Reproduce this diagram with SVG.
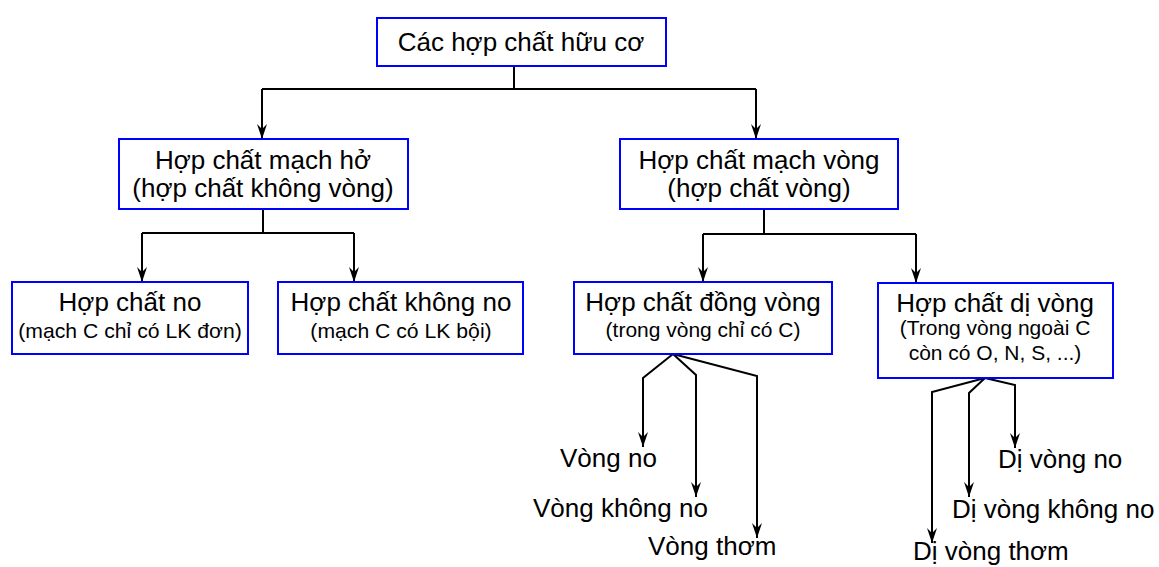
<svg xmlns="http://www.w3.org/2000/svg" width="1159" height="567" viewBox="0 0 1159 567">
<defs>
<marker id="arr" markerUnits="userSpaceOnUse" markerWidth="16" markerHeight="12" viewBox="-15 -6 16 12" refX="0" refY="0" orient="auto">
<path d="M0,0 L-15,-5 L-10,0 L-15,5 Z" fill="#000"/>
</marker>
</defs>
<style>
.box{fill:#fff;stroke:#0000ff;stroke-width:2}
.t{font-family:"Liberation Sans",Arial,sans-serif;font-size:26px;fill:#000;text-anchor:middle}
.s{font-family:"Liberation Sans",Arial,sans-serif;font-size:20px;fill:#000;text-anchor:middle}
.l{font-family:"Liberation Sans",Arial,sans-serif;font-size:26px;fill:#000}
.c{fill:none;stroke:#000;stroke-width:2}
</style>
<rect width="1159" height="567" fill="#fff"/>
<g id="connectors">
<path class="c" d="M514,66 V89 M262,89 H756"/>
<path class="c" d="M262,89 V139" marker-end="url(#arr)"/>
<path class="c" d="M756,89 V139" marker-end="url(#arr)"/>
<path class="c" d="M263,209 V233 M142,233 H354"/>
<path class="c" d="M142,233 V282" marker-end="url(#arr)"/>
<path class="c" d="M354,233 V282" marker-end="url(#arr)"/>
<path class="c" d="M764,209 V234 M703,234 H916"/>
<path class="c" d="M703,234 V282" marker-end="url(#arr)"/>
<path class="c" d="M916,234 V283" marker-end="url(#arr)"/>
<path class="c" d="M673,354 L643,378 V447" marker-end="url(#arr)"/>
<path class="c" d="M673,354 L696,375 V497" marker-end="url(#arr)"/>
<path class="c" d="M673,354 L757,376 V538" marker-end="url(#arr)"/>
<path class="c" d="M985,378 L932,392 V543" marker-end="url(#arr)"/>
<path class="c" d="M985,378 L969,393 V497" marker-end="url(#arr)"/>
<path class="c" d="M985,378 L1015,385 V448" marker-end="url(#arr)"/>
</g>
<g id="n-root">
<rect class="box" x="377" y="18" width="289" height="48"/>
<text class="t" x="521" y="51">Các hợp chất hữu cơ</text>
</g>
<g id="n-mach-ho">
<rect class="box" x="119" y="139" width="289" height="70"/>
<text class="t" x="263" y="169">Hợp chất mạch hở</text>
<text class="t" x="263" y="197">(hợp chất không vòng)</text>
</g>
<g id="n-mach-vong">
<rect class="box" x="620" y="139" width="278" height="70"/>
<text class="t" x="759" y="169">Hợp chất mạch vòng</text>
<text class="t" x="759" y="197">(hợp chất vòng)</text>
</g>
<g id="n-no">
<rect class="box" x="12" y="282" width="236" height="72"/>
<text class="t" x="130" y="311">Hợp chất no</text>
<text class="s" transform="translate(130,338) scale(1.06,1)">(mạch C chỉ có LK đơn)</text>
</g>
<g id="n-khong-no">
<rect class="box" x="278" y="282" width="245" height="72"/>
<text class="t" x="401" y="311">Hợp chất không no</text>
<text class="s" transform="translate(401,338) scale(1.06,1)">(mạch C có LK bội)</text>
</g>
<g id="n-dong-vong">
<rect class="box" x="574" y="282" width="258" height="72"/>
<text class="t" x="703" y="311">Hợp chất đồng vòng</text>
<text class="s" transform="translate(703,337) scale(1.05,1)">(trong vòng chỉ có C)</text>
</g>
<g id="n-di-vong">
<rect class="box" x="878" y="283" width="235" height="95"/>
<text class="t" x="995" y="312">Hợp chất dị vòng</text>
<text class="s" transform="translate(995,335) scale(1.05,1)">(Trong vòng ngoài C</text>
<text class="s" transform="translate(995,360) scale(1.05,1)">còn có O, N, S, ...)</text>
</g>
<g id="n-vong-no"><text class="l" x="560" y="467">Vòng no</text></g>
<g id="n-vong-khong-no"><text class="l" x="533" y="517">Vòng không no</text></g>
<g id="n-vong-thom"><text class="l" x="648" y="555">Vòng thơm</text></g>
<g id="n-di-vong-no"><text class="l" x="998" y="468">Dị vòng no</text></g>
<g id="n-di-vong-khong-no"><text class="l" x="952" y="518">Dị vòng không no</text></g>
<g id="n-di-vong-thom"><text class="l" x="913" y="560">Dị vòng thơm</text></g>
</svg>
